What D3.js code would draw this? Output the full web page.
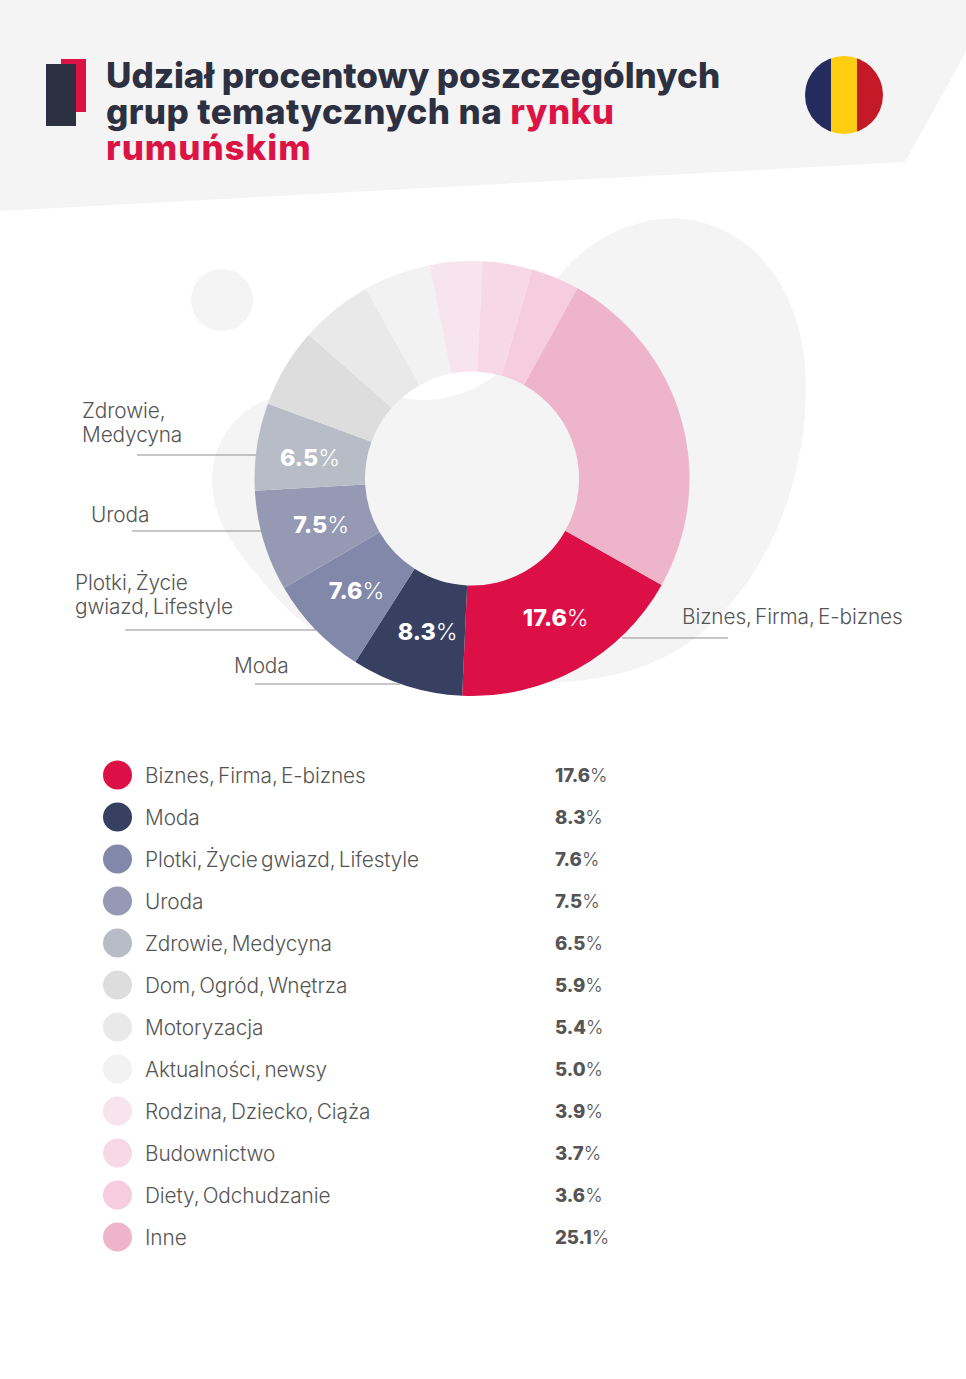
<!DOCTYPE html>
<html><head><meta charset="utf-8">
<script src="https://cdnjs.cloudflare.com/ajax/libs/d3/7.8.5/d3.min.js"></script>
<style>html,body{margin:0;padding:0;background:#fff}svg{display:block}text{font-family:Inter,"Open Sans",sans-serif}</style>
</head><body><svg id="c" width="966" height="1379"></svg>
<script>
const categories=["Biznes, Firma, E-biznes","Moda","Plotki, Życie gwiazd, Lifestyle","Uroda","Zdrowie, Medycyna","Dom, Ogród, Wnętrza","Motoryzacja","Aktualności, newsy","Rodzina, Dziecko, Ciąża","Budownictwo","Diety, Odchudzanie","Inne"];
const values=[17.6,8.3,7.6,7.5,6.5,5.9,5.4,5.0,3.9,3.7,3.6,25.1];
const colors=["#dc0f47","#384061","#8288a9","#9599b3","#b8bcc6","#dddddd","#e9e9e9","#f2f2f2","#f7e4ed","#f6d9e5","#f6cddf","#eeb4c9"];
const calloutLines=[["Biznes, Firma, E-biznes"],["Moda"],["Plotki, Życie","gwiazd, Lifestyle"],["Uroda"],["Zdrowie,","Medycyna"]];
const titleLines=[[["Udział procentowy poszczególnych",0]],[["grup tematycznych na ",0],["rynku",1]],[["rumuńskim",1]]];

const svg=d3.select("#c"),TXT="#555",DARK="#2d3040",RED="#dc1446",BG="#f4f4f4";
// decoration
svg.append("path").attr("d","M0,0H966V52L905,162L0,211Z").attr("fill",BG);
svg.append("path").attr("d","M397,396C420,404 460,402 497,374C520,350 535,300 556,280C590,235 640,215 685,219C760,228 806,300 806,385C806,480 770,570 710,625C670,665 610,680 560,682L450,690C390,680 310,640 270,590C235,550 212,520 212,480C212,440 240,405 275,398C320,380 370,385 397,396Z").attr("fill",BG);
svg.append("circle").attr("cx",222).attr("cy",300).attr("r",31).attr("fill",BG);
// logo
svg.append("rect").attr("x",61).attr("y",59).attr("width",25).attr("height",53).attr("fill",RED);
svg.append("rect").attr("x",46).attr("y",64).attr("width",30).attr("height",62).attr("fill",DARK);
// title
const title=svg.append("g");
const titleSpacing=[-0.05,0.4,0.95];
titleLines.forEach((ln,i)=>{const t=title.append("text").attr("x",106).attr("y",88+36*i).attr("font-size",35).attr("font-weight",800).attr("letter-spacing",titleSpacing[i]);
 ln.forEach(s=>t.append("tspan").text(s[0]).attr("fill",s[1]?RED:DARK));});
// flag
const defs=svg.append("defs");
defs.append("clipPath").attr("id","fc").append("circle").attr("cx",844).attr("cy",95).attr("r",39);
const flagX=d3.scaleBand().domain([0,1,2]).range([805,883]);
svg.append("g").attr("clip-path","url(#fc)").selectAll("rect").data(["#242b5e","#fdcd10","#c41a28"]).join("rect")
 .attr("x",(d,i)=>flagX(i)).attr("width",flagX.bandwidth()).attr("y",56).attr("height",78).attr("fill",d=>d);
// donut
const cx=472,cy=478.5,R=217.5,r=107;
const startDeg=119.3;
const pie=d3.pie().sort(null).value(d=>d).startAngle(startDeg*Math.PI/180).endAngle((startDeg+360)*Math.PI/180);
const arc=d3.arc().innerRadius(r).outerRadius(R);
const arcs=pie(values);
const g=svg.append("g").attr("transform",`translate(${cx},${cy})`);
g.selectAll("path").data(arcs).join("path").attr("d",arc).attr("fill",(d,i)=>colors[i]);
// callouts
const lineSpec=[[622,728,638],[255,400,684],[125,316,630],[132,261,531],[137,256,455]];
const labelSpec=[[682,624],[234,672.5],[75,589.5],[91,521.5],[82,417.5]];
lineSpec.forEach(s=>svg.append("line").attr("x1",s[0]).attr("x2",s[1]).attr("y1",s[2]).attr("y2",s[2]).attr("stroke","#8f8f8f").attr("stroke-width",1));
calloutLines.forEach((ls,i)=>ls.forEach((l,j)=>svg.append("text").attr("x",labelSpec[i][0]).attr("y",labelSpec[i][1]+24*j).attr("font-size",20.8).attr("font-weight",300).attr("word-spacing",-2.5).attr("letter-spacing",-0.1).attr("fill",TXT).text(l)));
// value labels in ring
const nudge=[[4.5,-2.5],[4,-1.5],[1,-0.5],[4,-0.5],[-2,2.5]];
arcs.slice(0,5).forEach((d,i)=>{const c=arc.centroid(d);
 const t=g.append("text").attr("x",c[0]+nudge[i][0]).attr("y",c[1]+8.5+nudge[i][1]).attr("text-anchor","middle").attr("font-size",23.3).attr("fill","#fff");
 t.append("tspan").attr("font-weight",800).text(values[i].toFixed(1));
 t.append("tspan").attr("font-weight",300).attr("letter-spacing",-1).text("%");});
// legend
const y=d3.scalePoint().domain(d3.range(categories.length)).range([775,1237]);
const leg=svg.append("g").selectAll("g").data(categories).join("g").attr("transform",(d,i)=>`translate(0,${y(i)})`);
leg.append("circle").attr("cx",117.5).attr("r",14.5).attr("fill",(d,i)=>colors[i]);
leg.append("text").attr("x",145).attr("y",7.5).attr("font-size",20.8).attr("font-weight",300).attr("word-spacing",-2.5).attr("letter-spacing",-0.1).attr("fill",TXT).text(d=>d);
const v=leg.append("text").attr("x",555).attr("y",7).attr("font-size",18.6).attr("fill",TXT);
v.append("tspan").attr("font-weight",800).text((d,i)=>values[i].toFixed(1));
v.append("tspan").attr("font-weight",300).attr("letter-spacing",-1).text("%");
</script></body></html>
